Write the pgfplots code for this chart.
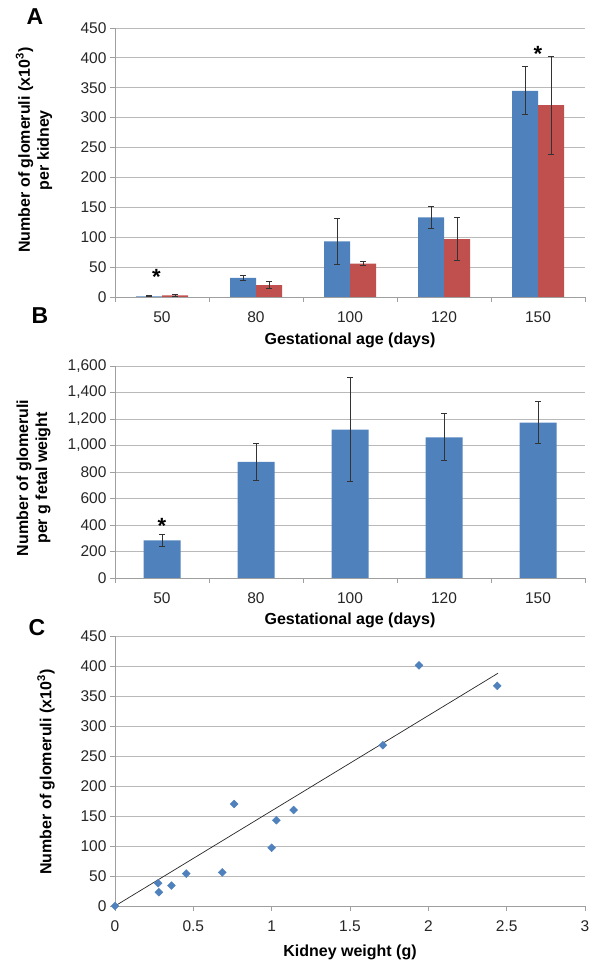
\documentclass[border=0pt]{standalone}
\usepackage{fontspec}
\setmainfont{Liberation Sans}
\usepackage{pgfplots}
\pgfplotsset{compat=1.18}

\definecolor{exblue}{HTML}{4F81BD}
\definecolor{exred}{HTML}{C0504D}

\pgfplotsset{
  panel/.style={
    scale only axis, width=470pt,
    axis x line*=bottom, axis y line*=left,
    axis line style={-, gray!75, line width=0.9pt},
    ymajorgrids, grid style={gray!55, line width=0.9pt},
    tick align=outside, major tick length=5pt, minor tick length=5pt,
    tick style={gray!75, line width=0.9pt},
    ticklabel style={font=\fontsize{15.5}{15.5}\selectfont, text=black!85},
    xticklabel style={yshift=-6pt},
    /pgf/number format/assume math mode=true,
    /pgf/number format/1000 sep={,},
    label style={font=\fontsize{16}{19}\selectfont\bfseries},
    xlabel style={at={(axis description cs:0.5,0)}, anchor=center},
  },
  barpanel/.style={
    panel,
    xmin=-0.5, xmax=4.5,
    xtick={0,...,4}, xticklabels={50,80,100,120,150},
    major x tick style={draw=none},
    minor xtick={-0.5,0.5,...,4.5},
    xlabel={Gestational age (days)},
  },
  errs/.style={
    error bars/.cd, y dir=both, y explicit,
    error bar style={line width=0.9pt, black!80},
    error mark options={rotate=90, mark size=3pt, line width=0.9pt, black!80},
  },
}

\begin{document}
\begin{tikzpicture}
\path[use as bounding box] (0,0) rectangle (591pt,965pt);

% panel A
\begin{axis}[barpanel,
  at={(115pt,668pt)}, anchor=south west, height=269pt,
  ymin=0, ymax=450, ytick={0,50,...,450},
  ybar=0pt, bar width=26pt,
  ylabel={Number of glomeruli (x10\textsuperscript{3})\\per kidney},
  ylabel style={align=center, at={(axis description cs:-0.1723,0.546)}, anchor=center},
  xlabel style={yshift=-43pt},
]
\addplot[fill=exblue, draw=none, errs] coordinates {
  (0,1.2) +- (0,0.8) (1,32) +- (0,4.5) (2,93) +- (0,38.5) (3,133) +- (0,19) (4,345) +- (0,40)};
\addplot[fill=exred, draw=none, errs] coordinates {
  (0,2.5) +- (0,1) (1,20) +- (0,5.5) (2,56) +- (0,3) (3,97) +- (0,36) (4,321) +- (0,82)};
\node[font=\fontsize{22}{22}\selectfont\bfseries] at (axis cs:-0.06,33) {*};
\node[font=\fontsize{22}{22}\selectfont\bfseries] at (axis cs:4,407) {*};
\end{axis}

% panel B
\begin{axis}[barpanel,
  at={(115pt,387pt)}, anchor=south west, height=212pt,
  ymin=0, ymax=1600, ytick={0,200,...,1600},
  ybar, bar width=37pt,
  ylabel={Number of glomeruli\\per g fetal weight},
  ylabel style={align=center, at={(axis description cs:-0.1734,0.472)}, anchor=center},
  xlabel style={yshift=-42pt},
]
\addplot[fill=exblue, draw=none, errs] coordinates {
  (0,283) +- (0,44) (1,876) +- (0,142) (2,1120) +- (0,393) (3,1062) +- (0,177) (4,1173) +- (0,157)};
\node[font=\fontsize{22}{22}\selectfont\bfseries] at (axis cs:0,395) {*};
\end{axis}

% panel C
\begin{axis}[panel,
  at={(115pt,59pt)}, anchor=south west, height=270pt,
  xmin=0, xmax=3, xtick={0,0.5,...,3},
  ymin=0, ymax=450, ytick={0,50,...,450},
  ylabel={Number of glomeruli (x10\textsuperscript{3})},
  ylabel style={at={(axis description cs:-0.1468,0.496)}, anchor=center},
  xlabel={Kidney weight (g)},
  xlabel style={yshift=-46pt},
]
\addplot[only marks, mark=square*, mark size=2.8pt,
  mark options={rotate=45, fill=exblue, draw=exblue}] coordinates {
  (0,0) (0.275,38) (0.28,23) (0.36,34) (0.455,54) (0.685,56) (0.76,170)
  (1.0,97) (1.03,143) (1.14,160) (1.71,268) (1.94,401) (2.44,367)};
\addplot[black!85, line width=0.7pt] coordinates {(0,0) (2.445,388)};
\end{axis}

\node[font=\fontsize{23}{23}\selectfont\bfseries] at (35pt,948pt) {A};
\node[font=\fontsize{23}{23}\selectfont\bfseries] at (40pt,649pt) {B};
\node[font=\fontsize{23}{23}\selectfont\bfseries] at (37pt,337pt) {C};
\end{tikzpicture}
\end{document}
